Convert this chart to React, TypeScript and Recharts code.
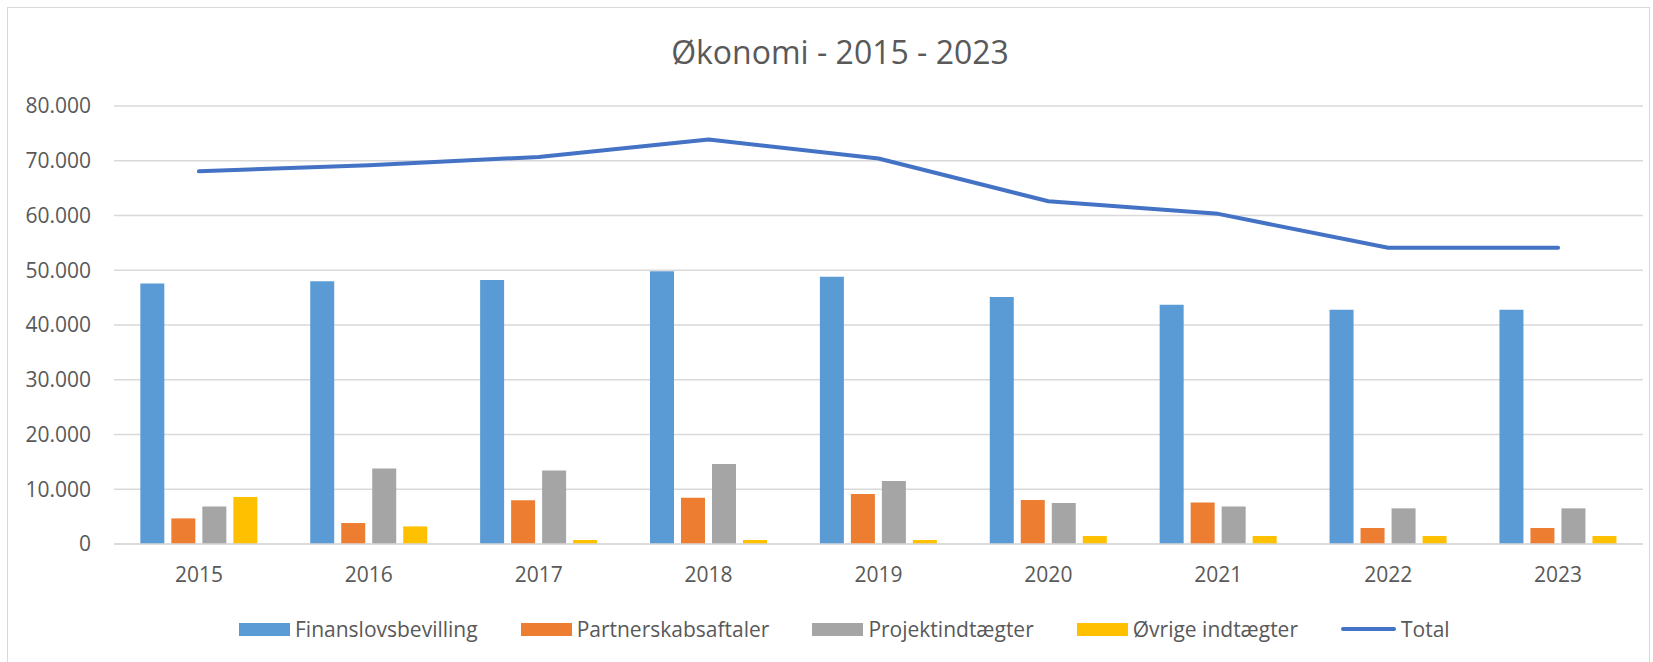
import { Bar, CartesianGrid, ComposedChart, Legend, Line, XAxis, YAxis } from "recharts";

const years = ["2015", "2016", "2017", "2018", "2019", "2020", "2021", "2022", "2023"];
const finanslovsbevilling = [47570, 48000, 48200, 49800, 48800, 45100, 43700, 42800, 42800];
const partnerskabsaftaler = [4680, 3830, 7970, 8450, 9120, 8030, 7600, 2920, 2920];
const projektindtaegter = [6870, 13800, 13440, 14600, 11500, 7480, 6870, 6510, 6510];
const oevrigeIndtaegter = [8580, 3220, 730, 730, 730, 1460, 1460, 1460, 1460];
const total = [68070, 69200, 70700, 73900, 70400, 62600, 60300, 54100, 54100];
const yTicks = [0, 10000, 20000, 30000, 40000, 50000, 60000, 70000, 80000];

const series = [
  { key: "fin", name: "Finanslovsbevilling", color: "#5B9BD5", kind: "bar" },
  { key: "part", name: "Partnerskabsaftaler", color: "#ED7D31", kind: "bar" },
  { key: "proj", name: "Projektindtægter", color: "#A5A5A5", kind: "bar" },
  { key: "oev", name: "Øvrige indtægter", color: "#FFC000", kind: "bar" },
  { key: "total", name: "Total", color: "#4472C4", kind: "line" },
];

const data = years.map((year, i) => ({
  year,
  fin: finanslovsbevilling[i],
  part: partnerskabsaftaler[i],
  proj: projektindtaegter[i],
  oev: oevrigeIndtaegter[i],
  total: total[i],
}));

const FONT = "'Open Sans', sans-serif";
const TEXT = "#595959";
const GRID = "#d9d9d9";

// danish thousands separator: 80000 -> 80.000
const fmt = (v: number) => String(v).replace(/\B(?=(\d{3})+(?!\d))/g, ".");

function LegendRow() {
  return (
    <div
      style={{
        display: "flex",
        alignItems: "center",
        height: 30,
        paddingLeft: 239,
        gap: 43,
        fontFamily: FONT,
        fontSize: 21,
        color: TEXT,
        whiteSpace: "nowrap",
      }}
    >
      {series.map((s) => (
        <div key={s.key} style={{ display: "flex", alignItems: "center", gap: 5 }}>
          {s.kind === "bar" ? (
            <span style={{ width: 51, height: 13, background: s.color, display: "inline-block" }} />
          ) : (
            <span
              style={{ width: 55, height: 4, borderRadius: 2, background: s.color, display: "inline-block" }}
            />
          )}
          <span>{s.name}</span>
        </div>
      ))}
    </div>
  );
}

export default function App() {
  return (
    <div style={{ position: "absolute", left: 0, top: 0, width: 1653, height: 662, background: "#fff", overflow: "hidden" }}>
      <div
        style={{
          position: "absolute",
          left: 7,
          top: 7,
          width: 1643,
          height: 680,
          border: `1px solid ${GRID}`,
          boxSizing: "border-box",
        }}
      />
      <div
        style={{
          position: "absolute",
          left: 0,
          top: 30,
          width: 1680,
          textAlign: "center",
          fontFamily: FONT,
          fontSize: 32,
          color: TEXT,
          lineHeight: "44px",
        }}
      >
        Økonomi - 2015 - 2023
      </div>
      <ComposedChart
        width={1653}
        height={662}
        data={data}
        margin={{ top: 106, right: 10, left: 0, bottom: 18 }}
        barCategoryGap="15.5%"
        barGap={7}
        style={{ position: "absolute", left: 0, top: 0 }}
      >
        <CartesianGrid vertical={false} stroke={GRID} strokeWidth={1.5} />
        <XAxis
          dataKey="year"
          height={70}
          axisLine={{ stroke: GRID, strokeWidth: 1.5 }}
          tickLine={false}
          tickSize={0}
          tickMargin={23}
          tick={{ fill: TEXT, fontSize: 21, fontFamily: FONT }}
        />
        <YAxis
          width={114}
          domain={[0, 80000]}
          ticks={yTicks}
          tickFormatter={fmt}
          axisLine={false}
          tickLine={false}
          tickSize={0}
          tickMargin={23}
          tick={{ fill: TEXT, fontSize: 21, fontFamily: FONT }}
        />
        {series
          .filter((s) => s.kind === "bar")
          .map((s) => (
            <Bar key={s.key} dataKey={s.key} name={s.name} fill={s.color} isAnimationActive={false} />
          ))}
        <Line
          dataKey="total"
          name="Total"
          type="linear"
          stroke="#4472C4"
          strokeWidth={4}
          strokeLinecap="round"
          strokeLinejoin="round"
          dot={false}
          activeDot={false}
          isAnimationActive={false}
        />
        <Legend verticalAlign="bottom" content={() => <LegendRow />} />
      </ComposedChart>
    </div>
  );
}
